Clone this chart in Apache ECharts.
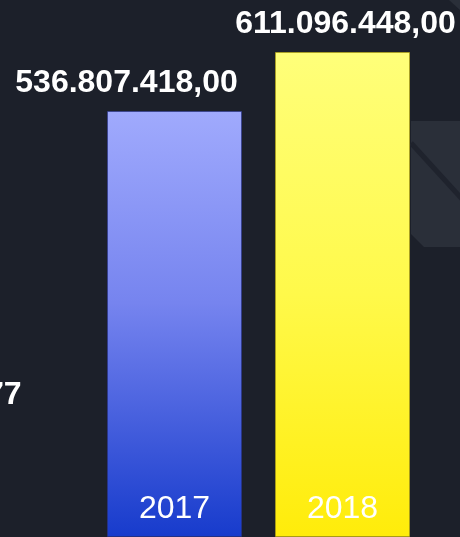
<!DOCTYPE html>
<html>
<head>
<meta charset="utf-8">
<script src="https://cdn.jsdelivr.net/npm/echarts@6/dist/echarts.min.js"></script>
<style>
  html, body { margin: 0; padding: 0; background: #1c202a; }
  #chart { width: 460px; height: 537px; }
</style>
</head>
<body>
<div id="chart"></div>
<script>
const years = ['2017', '2018'];
const values = [536807418.00, 611096448.00];
const leftLabel = '77';

// number in pt-BR style: 536.807.418,00
function fmt(v) {
    const parts = v.toFixed(2).split('.');
    return parts[0].replace(/\B(?=(\d{3})+(?!\d))/g, '.') + ',' + parts[1];
}

const chart = echarts.init(document.getElementById('chart'));

const barColors = [
    new echarts.graphic.LinearGradient(0, 0, 0, 1, [
        { offset: 0, color: '#a0aafd' },
        { offset: 0.45, color: '#7684ef' },
        { offset: 1, color: '#173bcc' }
    ]),
    new echarts.graphic.LinearGradient(0, 0, 0, 1, [
        { offset: 0, color: '#ffff7a' },
        { offset: 0.5, color: '#fff94a' },
        { offset: 1, color: '#ffec0a' }
    ])
];
const borderColors = ['rgba(40,50,140,0.6)', 'rgba(180,165,20,0.7)'];
const labelShift = [[-48, 0], [3, 0]];

const option = {
    backgroundColor: '#1c202a',
    animation: false,
    grid: { left: 90.5, right: 33.5, top: 52, bottom: -8 },
    xAxis: {
        type: 'category',
        data: years,
        axisLine: { show: false },
        axisTick: { show: false },
        axisLabel: { show: false }
    },
    yAxis: {
        type: 'value',
        min: 0,
        max: 'dataMax',
        show: false,
        splitLine: { show: false }
    },
    graphic: {
        elements: [
            {
                type: 'polygon',
                z: -1,
                shape: { points: [[411, 121], [460, 121], [460, 247], [424, 247], [411, 234]] },
                style: { fill: '#2a2f39' }
            },
            {
                type: 'line',
                z: -1,
                shape: { x1: 411, y1: 143, x2: 462, y2: 199 },
                style: { stroke: '#1f232d', lineWidth: 5 }
            },
            {
                type: 'polygon',
                z: -1,
                shape: { points: [[449, 0], [460, 0], [460, 10]] },
                style: { fill: '#2a2f39' }
            },
            {
                type: 'text',
                left: -14,
                top: 379,
                style: {
                    text: leftLabel,
                    fill: '#ffffff',
                    font: 'bold 32px "Liberation Sans", Arial, sans-serif'
                }
            }
        ]
    },
    series: [
        {
            type: 'bar',
            barWidth: 135,
            data: values.map((v, i) => ({
                value: v,
                itemStyle: { color: barColors[i], borderColor: borderColors[i], borderWidth: 1 },
                label: { offset: labelShift[i] }
            })),
            label: {
                show: true,
                position: 'top',
                distance: 12,
                color: '#ffffff',
                fontSize: 32,
                fontWeight: 'bold',
                fontFamily: '"Liberation Sans", Arial, sans-serif',
                formatter: p => fmt(p.value)
            }
        },
        {
            // year names written inside the bottom of each bar
            type: 'bar',
            barWidth: 135,
            barGap: '-100%',
            silent: true,
            z: 3,
            data: values,
            itemStyle: { color: 'transparent' },
            label: {
                show: true,
                position: 'insideBottom',
                distance: 12,
                color: '#ffffff',
                fontSize: 32,
                fontFamily: '"Liberation Sans", Arial, sans-serif',
                formatter: '{b}'
            }
        }
    ]
};

chart.setOption(option);
</script>
</body>
</html>
